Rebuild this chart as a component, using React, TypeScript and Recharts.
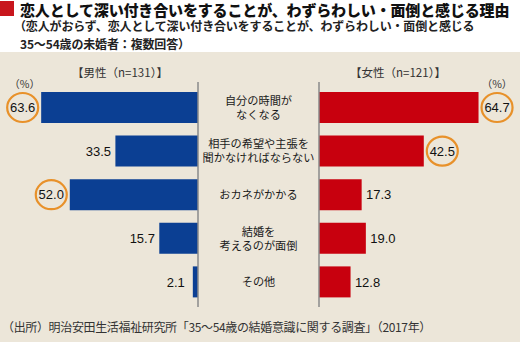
import React from "react";
import { BarChart, Bar, XAxis, YAxis, LabelList } from "recharts";

const categories = [
  "自分の時間が\nなくなる",
  "相手の希望や主張を\n聞かなければならない",
  "おカネがかかる",
  "結婚を\n考えるのが面倒",
  "その他",
];
const maleValues = [63.6, 33.5, 52.0, 15.7, 2.1];
const femaleValues = [64.7, 42.5, 17.3, 19.0, 12.8];
const maleHighlight = [true, false, true, false, false];
const femaleHighlight = [true, true, false, false, false];

const title = "恋人として深い付き合いをすることが、わずらわしい・面倒と感じる理由";
const subtitle1 = "（恋人がおらず、恋人として深い付き合いをすることが、わずらわしい・面倒と感じる";
const subtitle2 = "35～54歳の未婚者：複数回答）";
const maleTitle = "【男性（n=131）】";
const femaleTitle = "【女性（n=121）】";
const unitLabel = "（%）";
const footer = "（出所）明治安田生活福祉研究所「35～54歳の結婚意識に関する調査」（2017年）";

const W = 520;
const H = 342;
const BG = "#ece6d9";
const BLUE = "#0b3f93";
const RED = "#c8000e";
const ORANGE = "#e8912a";
const AXIS = "#8a8a8a";
const JP = "'Noto Sans CJK JP', 'Noto Sans', sans-serif";
const NUM = "'Liberation Sans', Arial, sans-serif";

const MAX = 80.3;
const LEFT_AXIS_X = 198;
const RIGHT_AXIS_X = 319;
const PANEL_W = 198;
const AXIS_W = 1;
const CENTER_X = (LEFT_AXIS_X + RIGHT_AXIS_X) / 2;

const maleData = categories.map((name, i) => ({ name, value: maleValues[i] }));
const femaleData = categories.map((name, i) => ({ name, value: femaleValues[i] }));

function makeLabel(side: "left" | "right", highlights: boolean[]) {
  return (props: any) => {
    const { x, y, width, height, value, index } = props;
    const xs = [Number(x), Number(x) + Number(width)];
    const end = side === "left" ? Math.min(...xs) : Math.max(...xs);
    const hl = highlights[index];
    const off = hl ? 18.5 : 17;
    const cx = side === "left" ? end - off : end + off;
    const cy = Number(y) + Number(height) / 2;
    return (
      <g>
        {hl && <ellipse cx={cx} cy={cy} rx={15.5} ry={14.5} fill="none" stroke={ORANGE} strokeWidth={2.2} />}
        <text x={cx} y={cy} dy="0.36em" textAnchor="middle" fontFamily={NUM} fontSize={13} fill="#111">
          {Number(value).toFixed(1)}
        </text>
        {index === 0 && (
          <text x={cx + (side === "left" ? 2 : 0)} y={Number(y) - 8} dy="0.36em" textAnchor="middle" fontFamily={JP} fontSize={10.5} fill="#333">
            {unitLabel}
          </text>
        )}
      </g>
    );
  };
}

const CenterTick = (props: any) => {
  const { y, payload } = props;
  const lines = String(payload.value).split("\n");
  const lh = 14;
  const start = Number(y) - ((lines.length - 1) * lh) / 2;
  return (
    <g>
      {lines.map((ln, i) => (
        <text key={i} x={CENTER_X} y={start + i * lh} dy="0.36em" textAnchor="middle" fontFamily={JP} fontSize={11.2} fill="#1a1a1a">
          {ln}
        </text>
      ))}
    </g>
  );
};

export default function App() {
  const chartMargin = { top: 82, bottom: H - 307 };
  return (
    <div style={{ position: "absolute", left: 0, top: 0, width: W, height: H, background: BG, overflow: "hidden", fontFamily: JP }}>
      <div style={{ position: "absolute", left: 0, top: 0, width: W, height: 52, background: "#ffffff" }} />
      <div style={{ position: "absolute", left: 0, top: 1, width: 14, height: 15, background: "#c8161d" }} />
      <div style={{ position: "absolute", left: 20, top: 1, fontSize: 15, lineHeight: "17px", fontWeight: 900, color: "#111", letterSpacing: -0.15, whiteSpace: "nowrap" }}>
        {title}
      </div>
      <div style={{ position: "absolute", left: 14, top: 18, fontSize: 12, lineHeight: "15px", fontWeight: 700, color: "#222", letterSpacing: -0.15, whiteSpace: "nowrap" }}>
        {subtitle1}
      </div>
      <div style={{ position: "absolute", left: 20, top: 36, fontSize: 12, lineHeight: "15px", fontWeight: 700, color: "#222", letterSpacing: -0.15, whiteSpace: "nowrap" }}>
        {subtitle2}
      </div>
      <div style={{ position: "absolute", left: 40, width: 160, top: 64, textAlign: "center", fontSize: 11.5, lineHeight: "16px", color: "#333", whiteSpace: "nowrap" }}>
        {maleTitle}
      </div>
      <div style={{ position: "absolute", left: 318, width: 160, top: 64, textAlign: "center", fontSize: 11.5, lineHeight: "16px", color: "#333", whiteSpace: "nowrap" }}>
        {femaleTitle}
      </div>
      <div style={{ position: "absolute", left: 2, top: 318, fontSize: 12, lineHeight: "18px", color: "#333", letterSpacing: -0.35, whiteSpace: "nowrap" }}>
        {footer}
      </div>

      <div style={{ position: "absolute", left: 0, top: 0 }}>
        <BarChart
          width={W}
          height={H}
          layout="vertical"
          data={maleData}
          margin={{ ...chartMargin, left: LEFT_AXIS_X - PANEL_W, right: W - LEFT_AXIS_X - AXIS_W }}
        >
          <XAxis type="number" domain={[0, MAX]} reversed hide />
          <YAxis
            type="category"
            dataKey="name"
            orientation="right"
            width={AXIS_W}
            tickLine={false}
            tick={<CenterTick />}
            axisLine={{ stroke: AXIS, strokeWidth: 1.5 }}
            padding={{ top: 4, bottom: 3 }}
            interval={0}
          />
          <Bar dataKey="value" fill={BLUE} barSize={31} isAnimationActive={false}>
            <LabelList dataKey="value" content={makeLabel("left", maleHighlight)} />
          </Bar>
        </BarChart>
      </div>

      <div style={{ position: "absolute", left: 0, top: 0 }}>
        <BarChart
          width={W}
          height={H}
          layout="vertical"
          data={femaleData}
          margin={{ ...chartMargin, left: RIGHT_AXIS_X - AXIS_W, right: W - RIGHT_AXIS_X - PANEL_W }}
        >
          <XAxis type="number" domain={[0, MAX]} hide />
          <YAxis
            type="category"
            dataKey="name"
            orientation="left"
            width={AXIS_W}
            tickLine={false}
            tick={false}
            axisLine={{ stroke: AXIS, strokeWidth: 1.5 }}
            padding={{ top: 4, bottom: 3 }}
          />
          <Bar dataKey="value" fill={RED} barSize={31} isAnimationActive={false}>
            <LabelList dataKey="value" content={makeLabel("right", femaleHighlight)} />
          </Bar>
        </BarChart>
      </div>
    </div>
  );
}
